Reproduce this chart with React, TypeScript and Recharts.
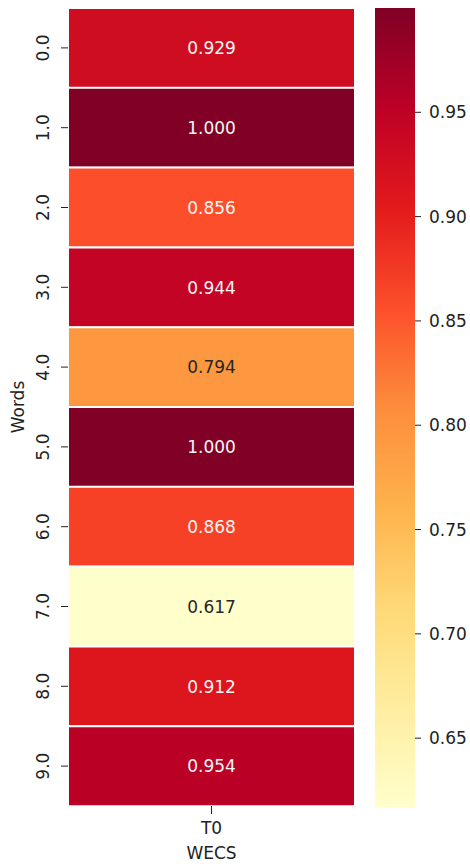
import React from 'react'
import { BarChart, Bar, XAxis, YAxis, Cell, LabelList } from 'recharts'

// rows (y categories), the single column, and the cell values
const words = ['0.0', '1.0', '2.0', '3.0', '4.0', '5.0', '6.0', '7.0', '8.0', '9.0']
const columns = ['T0']
const wecsValues = [0.929, 1.0, 0.856, 0.944, 0.794, 1.0, 0.868, 0.617, 0.912, 0.954]
const colorbarTicks = [0.65, 0.7, 0.75, 0.8, 0.85, 0.9, 0.95]

const FONT = '"DejaVu Sans", sans-serif'
const TEXT = '#222'

// matplotlib YlOrRd control colours
const ylOrRd = ['#ffffcc', '#ffeda0', '#fed976', '#feb24c', '#fd8d3c', '#fc4e2a', '#e31a1c', '#bd0026', '#800026']

const vmin = Math.min(...wecsValues)
const vmax = Math.max(...wecsValues)

const hexToRgb = (h: string) => [1, 3, 5].map((i) => parseInt(h.slice(i, i + 2), 16))

const colorAt = (value: number) => {
  const t = Math.max(0, Math.min(1, (value - vmin) / (vmax - vmin)))
  const pos = t * (ylOrRd.length - 1)
  const i = Math.min(Math.floor(pos), ylOrRd.length - 2)
  const f = pos - i
  const a = hexToRgb(ylOrRd[i])
  const b = hexToRgb(ylOrRd[i + 1])
  return a.map((c, k) => Math.round(c + (b[k] - c) * f))
}

const toCss = (rgb: number[]) => `rgb(${rgb[0]},${rgb[1]},${rgb[2]})`

// seaborn picks white text on dark cells
const textColorFor = (value: number) => {
  const lin = colorAt(value).map((c) => {
    const s = c / 255
    return s <= 0.03928 ? s / 12.92 : Math.pow((s + 0.055) / 1.055, 2.4)
  })
  const lum = 0.2126 * lin[0] + 0.7152 * lin[1] + 0.0722 * lin[2]
  return lum > 0.408 ? '#262626' : '#f5f5f5'
}

const heatData = words.map((w, i) => ({ word: w, span: columns.length, value: wecsValues[i] }))
const colorbarData = [{ name: 'cbar', range: [vmin, vmax] }]

const WordTick = (props: any) => {
  const { x, y, payload } = props
  const bx = x - 10
  return (
    <text x={bx} y={y} transform={`rotate(-90 ${bx} ${y})`} textAnchor="middle"
      fontFamily={FONT} fontSize={17} fill={TEXT}>
      {payload.value}
    </text>
  )
}

const ColumnTick = (props: any) => {
  const { x, y, payload } = props
  return (
    <text x={x} y={y + 18} textAnchor="middle" fontFamily={FONT} fontSize={17} fill={TEXT}>
      {columns[Math.floor(payload.value)]}
    </text>
  )
}

const CellLabel = (props: any) => {
  const { x, y, width, height, value } = props
  return (
    <text x={x + width / 2} y={y + height / 2} dy="0.36em" textAnchor="middle"
      fontFamily={FONT} fontSize={17} fill={textColorFor(value)}>
      {Number(value).toFixed(3)}
    </text>
  )
}

export default function App() {
  return (
    <div style={{ position: 'absolute', left: 0, top: 0, width: 470, height: 864, background: '#fff' }}>
      <div style={{ position: 'absolute', left: 0, top: 0 }}>
        <BarChart
          width={360}
          height={864}
          data={heatData}
          layout="vertical"
          barCategoryGap={0}
          margin={{ top: 8, right: 5, bottom: 0, left: 0 }}
        >
          <XAxis
            type="number"
            domain={[0, columns.length]}
            ticks={[0.5]}
            axisLine={false}
            tickSize={8}
            tickLine={{ stroke: TEXT }}
            tick={<ColumnTick />}
            height={58}
            label={({ viewBox }: any) => (
              <text x={viewBox.x + viewBox.width / 2} y={859} textAnchor="middle"
                fontFamily={FONT} fontSize={17} fill={TEXT}>WECS</text>
            )}
          />
          <YAxis
            type="category"
            dataKey="word"
            width={68}
            axisLine={false}
            tickSize={7}
            tickLine={{ stroke: TEXT }}
            tick={<WordTick />}
            interval={0}
            label={({ viewBox }: any) => {
              const cy = viewBox.y + viewBox.height / 2
              return (
                <text x={24} y={cy} transform={`rotate(-90 24 ${cy})`} textAnchor="middle"
                  fontFamily={FONT} fontSize={17} fill={TEXT}>Words</text>
              )
            }}
          />
          <Bar dataKey="span" stroke="#fff" strokeWidth={2} isAnimationActive={false}>
            {heatData.map((d) => (
              <Cell key={d.word} fill={toCss(colorAt(d.value))} />
            ))}
            <LabelList dataKey="value" content={<CellLabel />} />
          </Bar>
        </BarChart>
      </div>

      <div style={{ position: 'absolute', left: 360, top: 0 }}>
        <BarChart
          width={110}
          height={864}
          data={colorbarData}
          barCategoryGap={0}
          margin={{ top: 8, right: 0, bottom: 57, left: 15 }}
        >
          <defs>
            <linearGradient id="ylOrRdBar" x1="0" y1="0" x2="0" y2="1">
              {ylOrRd.map((_, i) => (
                <stop key={i} offset={i / (ylOrRd.length - 1)} stopColor={ylOrRd[ylOrRd.length - 1 - i]} />
              ))}
            </linearGradient>
          </defs>
          <XAxis dataKey="name" hide />
          <YAxis
            orientation="right"
            type="number"
            domain={[vmin, vmax]}
            allowDataOverflow
            ticks={colorbarTicks}
            tickFormatter={(v: number) => v.toFixed(2)}
            width={55}
            axisLine={false}
            tickSize={6}
            tickMargin={8}
            tickLine={{ stroke: TEXT }}
            tick={{ fontFamily: FONT, fontSize: 17, fill: TEXT }}
          />
          <Bar dataKey="range" fill="url(#ylOrRdBar)" isAnimationActive={false} />
        </BarChart>
      </div>
    </div>
  )
}
